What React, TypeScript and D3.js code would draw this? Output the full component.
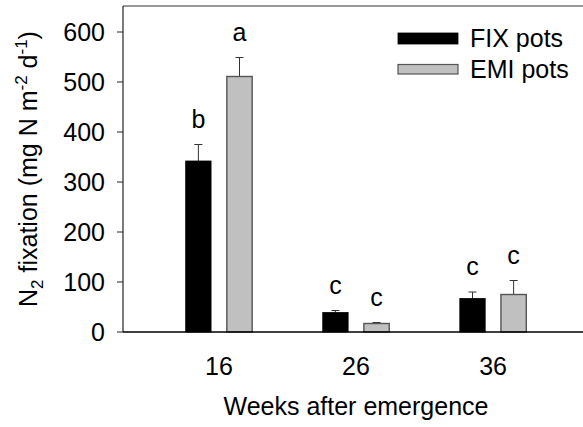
import React from "react";
import * as d3 from "d3";

const weeks = [16, 26, 36];
const weekLabels = ["16", "26", "36"];
const fixMeans = [342, 39, 67];
const fixErrors = [33, 4, 13];
const emiMeans = [511, 17, 75];
const emiErrors = [38, 2, 28];
const fixLetters = ["b", "c", "c"];
const emiLetters = ["a", "c", "c"];
const yTicks = [0, 100, 200, 300, 400, 500, 600];
const seriesNames = ["FIX pots", "EMI pots"];

const W = 583;
const H = 427;
const left = 123;
const right = 589;
const top = 7;
const bottom = 332;
const FONT = "'Liberation Sans', Arial, Helvetica, sans-serif";
const FS = 25;

export default function App() {
  const x = d3.scaleLinear().domain([9, 43]).range([left, right]);
  const y = d3.scaleLinear().domain([0, 650]).range([bottom, top]);
  const offset = 1.5;
  const half = 0.925;

  const series = [
    { means: fixMeans, errs: fixErrors, letters: fixLetters, sign: -1, fill: "#000000", stroke: "#000000" },
    { means: emiMeans, errs: emiErrors, letters: emiLetters, sign: 1, fill: "#c0c0c0", stroke: "#555555" },
  ];

  return (
    <svg
      width={W}
      height={H}
      style={{ position: "absolute", left: 0, top: 0, background: "#fff" }}
      fontFamily={FONT}
    >
      <rect x={0} y={0} width={W} height={H} fill="#fff" />
      {/* frame */}
      <line x1={left} x2={right} y1={y(652)} y2={y(652)} stroke="#333" strokeWidth={1} />
      <line x1={left} x2={left} y1={y(652)} y2={bottom} stroke="#222" strokeWidth={1.2} />

      {/* bars */}
      {series.map((s, si) =>
        weeks.map((w, i) => {
          const c = w + s.sign * offset;
          const x0 = x(c - half);
          const x1 = x(c + half);
          const cx = x(c);
          const yTop = y(s.means[i]);
          const yErr = y(s.means[i] + s.errs[i]);
          return (
            <g key={`${si}-${i}`}>
              <line x1={cx} x2={cx} y1={yTop} y2={yErr} stroke="#333" strokeWidth={1} />
              <line x1={cx - 4} x2={cx + 4} y1={yErr} y2={yErr} stroke="#333" strokeWidth={1} />
              <rect
                x={x0}
                y={yTop}
                width={x1 - x0}
                height={bottom - yTop}
                fill={s.fill}
                stroke={s.stroke}
                strokeWidth={si === 1 ? 1.4 : 0.8}
              />
              <text x={cx} y={yErr - 17} textAnchor="middle" fontSize={FS} fill="#000">
                {s.letters[i]}
              </text>
            </g>
          );
        })
      )}

      <line x1={left} x2={right} y1={bottom} y2={bottom} stroke="#000" strokeWidth={1.3} />

      {/* y ticks */}
      {yTicks.map((t) => (
        <g key={t}>
          <line x1={left - 6} x2={left} y1={y(t)} y2={y(t)} stroke="#222" strokeWidth={1} />
          <text x={105} y={y(t)} dy="0.36em" textAnchor="end" fontSize={FS} fill="#000">
            {t}
          </text>
        </g>
      ))}

      {/* x tick labels */}
      {weeks.map((w, i) => (
        <text key={w} x={x(w)} y={375} textAnchor="middle" fontSize={FS} fill="#000">
          {weekLabels[i]}
        </text>
      ))}

      <text x={x(26)} y={415} textAnchor="middle" fontSize={FS} fill="#000">
        Weeks after emergence
      </text>

      <text transform={`translate(37,169) rotate(-90)`} textAnchor="middle" fontSize={FS} fill="#000">
        N
        <tspan dy={6} fontSize={17}>2</tspan>
        <tspan dy={-6}> fixation (mg N m</tspan>
        <tspan dy={-10} fontSize={17}>-2</tspan>
        <tspan dy={10}> d</tspan>
        <tspan dy={-10} fontSize={17}>-1</tspan>
        <tspan dy={10}>)</tspan>
      </text>

      {/* legend */}
      {seriesNames.map((n, i) => (
        <g key={n}>
          <rect
            x={398}
            y={33 + i * 31.5}
            width={60}
            height={i === 0 ? 11 : 9.5}
            fill={series[i].fill}
            stroke={series[i].stroke}
            strokeWidth={i === 1 ? 1.2 : 0.8}
          />
          <text x={470} y={47 + i * 31} fontSize={FS} fill="#000">
            {n}
          </text>
        </g>
      ))}
    </svg>
  );
}
